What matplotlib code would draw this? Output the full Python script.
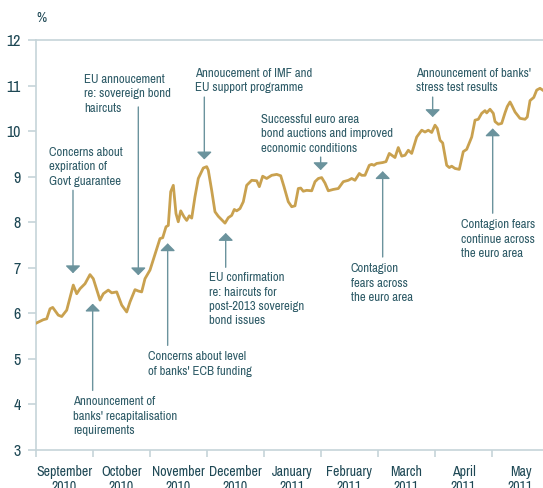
import numpy as np
import matplotlib
matplotlib.use('Agg')
import matplotlib.pyplot as plt
from matplotlib import font_manager

# months since 1 September 2010, and yield (%)
months = [0.012, 0.128, 0.188, 0.246, 0.293, 0.391, 0.451, 0.539, 0.654, 0.714,
          0.772, 0.860, 0.947, 1.005, 1.123, 1.181, 1.268, 1.328, 1.416, 1.504,
          1.591, 1.649, 1.737, 1.795, 1.854, 1.912, 2.000, 2.118, 2.175, 2.223,
          2.281, 2.321, 2.363, 2.409, 2.456, 2.496, 2.539, 2.596, 2.644, 2.689,
          2.732, 2.789, 2.847, 2.935, 2.995, 3.023, 3.082, 3.140, 3.198, 3.316,
          3.374, 3.433, 3.479, 3.521, 3.579, 3.637, 3.696, 3.784, 3.872, 3.918,
          3.977, 4.047, 4.135, 4.223, 4.293, 4.351, 4.426, 4.486, 4.544, 4.602,
          4.644, 4.689, 4.749, 4.837, 4.895, 4.953, 5.012, 5.070, 5.128, 5.216,
          5.304, 5.391, 5.479, 5.539, 5.596, 5.672, 5.714, 5.772, 5.847, 5.889,
          5.930, 5.977, 6.035, 6.082, 6.140, 6.198, 6.298, 6.356, 6.416, 6.474,
          6.532, 6.591, 6.679, 6.767, 6.825, 6.882, 6.942, 7.000, 7.040, 7.088,
          7.135, 7.205, 7.251, 7.293, 7.351, 7.426, 7.496, 7.556, 7.644, 7.702,
          7.760, 7.819, 7.877, 7.907, 7.965, 8.023, 8.053, 8.111, 8.170, 8.228,
          8.268, 8.316, 8.346, 8.404, 8.491, 8.579, 8.619, 8.667, 8.733, 8.784,
          8.842, 8.889]
yields = [5.79, 5.86, 5.88, 6.10, 6.13, 5.96, 5.93, 6.07, 6.62, 6.43,
          6.54, 6.65, 6.85, 6.76, 6.29, 6.43, 6.51, 6.45, 6.47, 6.18,
          6.03, 6.25, 6.52, 6.49, 6.47, 6.76, 6.95, 7.42, 7.64, 7.66,
          7.90, 7.93, 8.67, 8.81, 8.19, 8.01, 8.25, 8.12, 8.04, 8.14,
          8.09, 8.56, 8.96, 9.19, 9.22, 9.14, 8.70, 8.23, 8.13, 7.98,
          8.10, 8.15, 8.28, 8.25, 8.30, 8.45, 8.81, 8.92, 8.91, 8.78,
          9.01, 8.96, 9.03, 9.05, 9.02, 8.78, 8.45, 8.34, 8.36, 8.74,
          8.75, 8.68, 8.70, 8.69, 8.89, 8.96, 8.98, 8.86, 8.69, 8.72,
          8.74, 8.89, 8.92, 8.96, 8.92, 9.07, 9.03, 9.03, 9.25, 9.27,
          9.25, 9.29, 9.30, 9.31, 9.33, 9.51, 9.42, 9.64, 9.45, 9.47,
          9.58, 9.51, 9.87, 10.02, 9.98, 10.02, 9.97, 10.13, 10.06, 9.80,
          9.74, 9.25, 9.20, 9.23, 9.18, 9.16, 9.55, 9.60, 9.87, 10.24,
          10.26, 10.39, 10.45, 10.40, 10.48, 10.39, 10.21, 10.15, 10.17, 10.40,
          10.54, 10.64, 10.57, 10.42, 10.28, 10.26, 10.31, 10.67, 10.74, 10.90,
          10.94, 10.90]

month_labels = ['September\n2010', 'October\n2010', 'November\n2010', 'December\n2010',
                'January\n2011', 'February\n2011', 'March\n2011', 'April\n2011', 'May\n2011']

# (text, text x, text top, arrow x, arrow start, arrow tip)
notes = [
    ('Concerns about\nexpiration of\nGovt guarantee', 0.228, 9.65, 0.649, 8.70, 6.88),
    ('EU annoucement\nre: sovereign bond\nhaircuts', 0.842, 11.255, 1.795, 10.53, 6.835),
    ('Annoucement of IMF and\nEU support programme', 2.789, 11.387, 2.953, 10.747, 9.378),
    ('Successful euro area\nbond auctions and improved\neconomic conditions', 3.947, 10.376, 4.994, 9.43, 9.143),
    ("Announcement of banks'\nstress test results", 6.667, 11.387, 6.959, 10.747, 10.308),
    ('EU confirmation\nre: haircuts for\npost-2013 sovereign\nbond issues', 3.030, 6.903, 3.328, 7.011, 7.764),
    ("Concerns about level\nof banks' ECB funding", 1.965, 5.167, 2.310, 5.297, 7.538),
    ("Announcement of\nbanks' recapitalisation\nrequirements", 0.649, 4.178, 0.994, 4.308, 6.213),
    ('Contagion\nfears across\nthe euro area', 5.521, 7.101, 6.082, 7.237, 9.121),
    ('Contagion fears\ncontinue across\nthe euro area', 7.456, 8.068, 8.012, 8.198, 10.06),
]

line_col = '#c9a14f'
arrow_col = '#6b939d'
text_col = '#2e5b67'
tick_col = '#1e4855'
axis_col = '#c6d4d9'

# pick a narrow sans font if one is installed
names = {f.name for f in font_manager.fontManager.ttflist}
narrow = [n for n in sorted(names) if 'Narrow' in n or 'Condensed' in n]
dv_cond = any(f.name == 'DejaVu Sans' and f.stretch == 'condensed'
              for f in font_manager.fontManager.ttflist)
scale = 1.0
if narrow:
    plt.rcParams['font.family'] = [narrow[0], 'DejaVu Sans']
elif dv_cond:
    plt.rcParams['font.family'] = ['DejaVu Sans']
    plt.rcParams['font.stretch'] = 'condensed'
    scale = 0.95
else:
    plt.rcParams['font.family'] = ['Liberation Sans', 'DejaVu Sans']
    plt.rcParams['font.stretch'] = 'condensed'
    scale = 0.9

fig = plt.figure(figsize=(5.43, 4.88), dpi=100)
ax = fig.add_axes([36 / 543, 38 / 488, 1 - 36 / 543, 410 / 488])

ax.plot(months, yields, color=line_col, linewidth=2.0, solid_joinstyle='round', zorder=3)

for txt, tx, ty, axx, a0, a1 in notes:
    ax.text(tx, ty, txt, color=text_col, fontsize=9.2 * scale, va='top', ha='left', linespacing=1.38)
    ax.annotate('', xy=(axx, a1), xytext=(axx, a0),
                arrowprops=dict(arrowstyle='-|>,head_length=0.45,head_width=0.45',
                                color=arrow_col, lw=1.0, mutation_scale=10, shrinkA=0, shrinkB=0))

ax.set_xlim(0, (543 - 36) / 57)
ax.set_ylim(3, 12)
ax.set_yticks(range(3, 13))
ax.set_xticks(range(0, 9))
ax.set_xticklabels([])
ax.set_xticks(np.arange(9) + 0.5, minor=True)
ax.set_xticklabels(month_labels, minor=True, fontsize=10 * scale, color=tick_col, linespacing=1.15)
ax.tick_params(axis='x', which='minor', length=0, pad=10.5)
ax.tick_params(axis='x', which='major', length=5, width=1.2, color=axis_col, direction='out')
ax.tick_params(axis='y', length=6, width=1.2, color=axis_col, direction='out', pad=5,
               labelsize=11.5 * scale, labelcolor=tick_col)
for lab in ax.get_yticklabels():
    lab.set_fontweight('bold')

for side in ['left', 'bottom', 'top']:
    ax.spines[side].set_color(axis_col)
    ax.spines[side].set_linewidth(1.2)
ax.spines['right'].set_visible(False)

fig.text(41 / 543, 1 - 18 / 488, '%', color=tick_col, fontsize=10 * scale, ha='center', va='center')

fig.savefig('out.png', dpi=100)
